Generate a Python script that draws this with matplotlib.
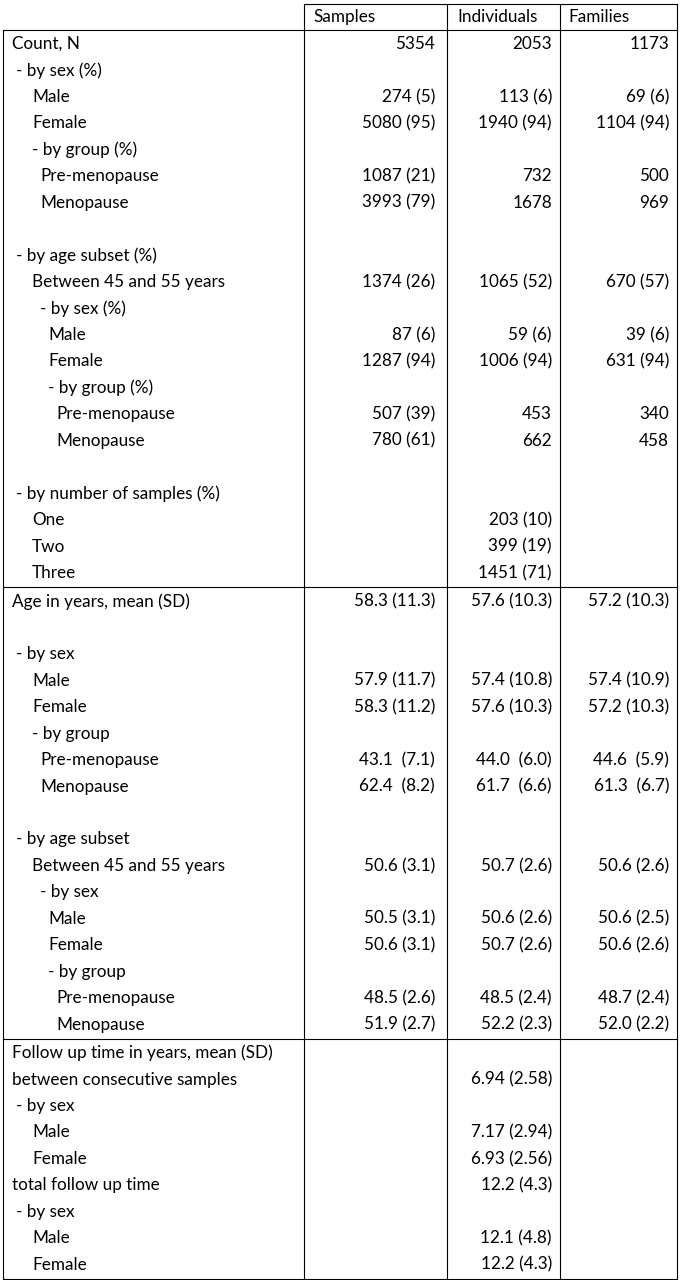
import matplotlib
matplotlib.use("Agg")
import matplotlib.pyplot as plt

columns = ["Samples", "Individuals", "Families"]

# (indent level, label, samples, individuals, families)
section1 = [
    (0, "Count, N", "5354", "2053", "1173"),
    (1, "- by sex (%)", "", "", ""),
    (2, "Male", "274 (5)", "113 (6)", "69 (6)"),
    (2, "Female", "5080 (95)", "1940 (94)", "1104 (94)"),
    (2, "- by group (%)", "", "", ""),
    (3, "Pre-menopause", "1087 (21)", "732", "500"),
    (3, "Menopause", "3993 (79)", "1678", "969"),
    (0, "", "", "", ""),
    (1, "- by age subset (%)", "", "", ""),
    (2, "Between 45 and 55 years", "1374 (26)", "1065 (52)", "670 (57)"),
    (3, "- by sex (%)", "", "", ""),
    (4, "Male", "87 (6)", "59 (6)", "39 (6)"),
    (4, "Female", "1287 (94)", "1006 (94)", "631 (94)"),
    (4, "- by group (%)", "", "", ""),
    (5, "Pre-menopause", "507 (39)", "453", "340"),
    (5, "Menopause", "780 (61)", "662", "458"),
    (0, "", "", "", ""),
    (1, "- by number of samples (%)", "", "", ""),
    (2, "One", "", "203 (10)", ""),
    (2, "Two", "", "399 (19)", ""),
    (2, "Three", "", "1451 (71)", ""),
]
section2 = [
    (0, "Age in years, mean (SD)", "58.3 (11.3)", "57.6 (10.3)", "57.2 (10.3)"),
    (0, "", "", "", ""),
    (1, "- by sex", "", "", ""),
    (2, "Male", "57.9 (11.7)", "57.4 (10.8)", "57.4 (10.9)"),
    (2, "Female", "58.3 (11.2)", "57.6 (10.3)", "57.2 (10.3)"),
    (2, "- by group", "", "", ""),
    (3, "Pre-menopause", "43.1  (7.1)", "44.0  (6.0)", "44.6  (5.9)"),
    (3, "Menopause", "62.4  (8.2)", "61.7  (6.6)", "61.3  (6.7)"),
    (0, "", "", "", ""),
    (1, "- by age subset", "", "", ""),
    (2, "Between 45 and 55 years", "50.6 (3.1)", "50.7 (2.6)", "50.6 (2.6)"),
    (3, "- by sex", "", "", ""),
    (4, "Male", "50.5 (3.1)", "50.6 (2.6)", "50.6 (2.5)"),
    (4, "Female", "50.6 (3.1)", "50.7 (2.6)", "50.6 (2.6)"),
    (4, "- by group", "", "", ""),
    (5, "Pre-menopause", "48.5 (2.6)", "48.5 (2.4)", "48.7 (2.4)"),
    (5, "Menopause", "51.9 (2.7)", "52.2 (2.3)", "52.0 (2.2)"),
]
section3 = [
    (0, "Follow up time in years, mean (SD)", "", "", ""),
    (0, "between consecutive samples", "", "6.94 (2.58)", ""),
    (1, "- by sex", "", "", ""),
    (2, "Male", "", "7.17 (2.94)", ""),
    (2, "Female", "", "6.93 (2.56)", ""),
    (0, "total follow up time", "", "12.2 (4.3)", ""),
    (1, "- by sex", "", "", ""),
    (2, "Male", "", "12.1 (4.8)", ""),
    (2, "Female", "", "12.2 (4.3)", ""),
]

W, H = 681, 1280
fig = plt.figure(figsize=(W / 100, H / 100), dpi=100)
ax = fig.add_axes([0, 0, 1, 1])
ax.set_xlim(0, W)
ax.set_ylim(H, 0)
ax.axis("off")

FS = 12.3
FONT = ["Lato", "DejaVu Sans"]
kw = dict(fontsize=FS, family=FONT, color="black", va="center")

vx = [3, 304, 447, 560, 677]
right_x = [435, 552, 669]
head_x = [313, 457, 568]
level_x = [12, 16, 32, 40, 48, 56]
pitch = 26.45

# header
ax.plot([vx[1], vx[-1]], [4, 4], color="black", lw=0.8)
for x in vx[1:]:
    ax.plot([x, x], [4, 30], color="black", lw=0.8)
for c, x in zip(columns, head_x):
    ax.text(x, 17, c, ha="left", **kw)

y_top = 30
for sec in [section1, section2, section3]:
    y0 = y_top
    for i, (lev, lab, s, ind, fam) in enumerate(sec):
        y = y0 + 14 + i * pitch
        if lab:
            ax.text(level_x[lev], y, lab, ha="left", **kw)
        for v, x in zip([s, ind, fam], right_x):
            if v:
                ax.text(x, y, v, ha="right", **kw)
    y_bot = y0 + len(sec) * pitch + 2
    ax.plot([vx[0], vx[-1]], [y0, y0], color="black", lw=0.8)
    for x in vx:
        ax.plot([x, x], [y0, y_bot], color="black", lw=0.8)
    y_top = y_bot
ax.plot([vx[0], vx[-1]], [y_top, y_top], color="black", lw=0.8)

fig.savefig("out.png", dpi=100, facecolor="white")
